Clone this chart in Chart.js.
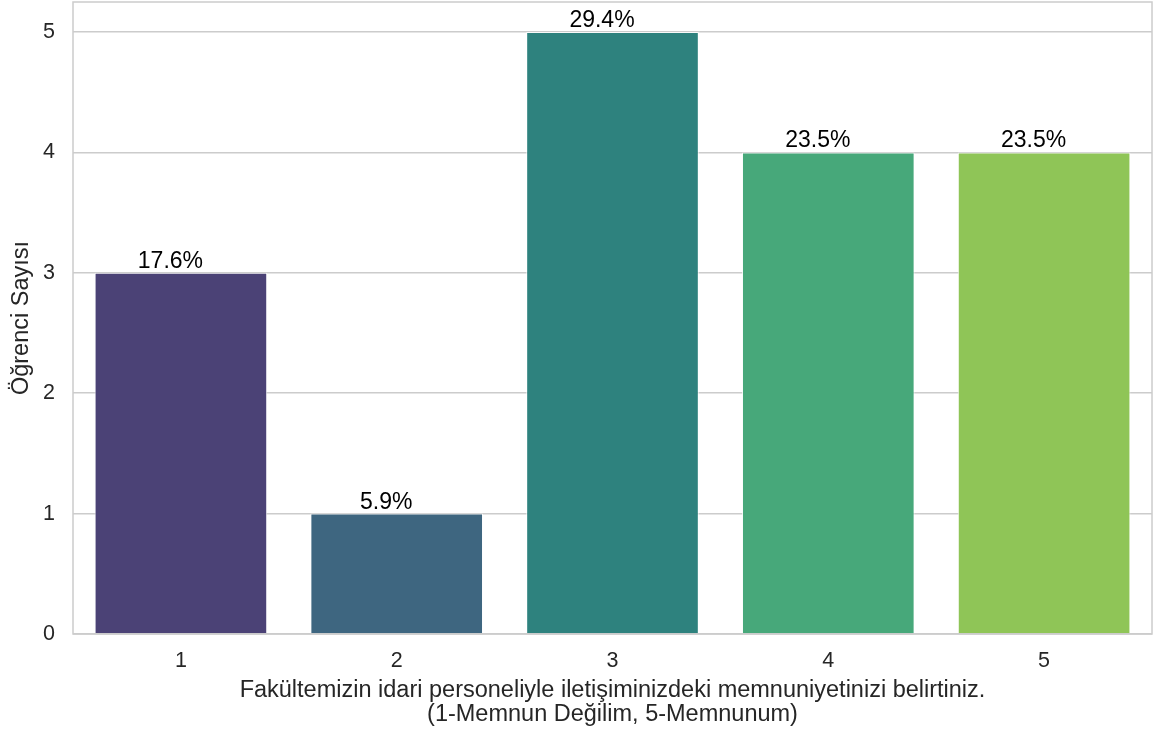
<!DOCTYPE html>
<html>
<head>
<meta charset="utf-8">
<script src="https://cdn.jsdelivr.net/npm/chart.js@4"></script>
<style>
  html, body { margin: 0; padding: 0; background: #ffffff; }
  #wrap { width: 1155px; height: 733px; }
</style>
</head>
<body>
<div id="wrap"><canvas id="barChart" width="1155" height="733"></canvas></div>
<script>
// Data
const categories = ['1', '2', '3', '4', '5'];
const counts = [3, 1, 5, 4, 4];
const percentLabels = ['17.6%', '5.9%', '29.4%', '23.5%', '23.5%'];
const barColors = ['#4b4276', '#3e6680', '#2e827e', '#47a87a', '#8fc557'];
const yTitle = 'Öğrenci Sayısı';
const xTitle = [
    'Fakültemizin idari personeliyle iletişiminizdeki memnuniyetinizi belirtiniz.',
    '(1-Memnun Değilim, 5-Memnunum)'
];

const FONT = "'Liberation Sans', Arial, sans-serif";
const gridColor = '#cccccc';

// frame round the plot area, drawn over the bars like matplotlib spines
const frame = {
    id: 'frame',
    afterDatasetsDraw(chart) {
        const { ctx, chartArea: a } = chart;
        ctx.save();
        ctx.strokeStyle = gridColor;
        ctx.lineWidth = 1.5;
        ctx.strokeRect(a.left, a.top, a.right - a.left, a.bottom - a.top);
        ctx.restore();
    }
};

// percentage labels above the bars (sit a little left of centre in the original)
const barLabels = {
    id: 'barLabels',
    afterDatasetsDraw(chart) {
        const ctx = chart.ctx;
        const meta = chart.getDatasetMeta(0);
        ctx.save();
        ctx.font = '23px ' + FONT;
        ctx.fillStyle = '#000000';
        ctx.textAlign = 'center';
        ctx.textBaseline = 'alphabetic';
        meta.data.forEach((bar, i) => {
            ctx.fillText(percentLabels[i], bar.x - 10.5, bar.y - 5);
        });
        ctx.restore();
    }
};

new Chart(document.getElementById('barChart'), {
    type: 'bar',
    data: {
        labels: categories,
        datasets: [{
            data: counts,
            backgroundColor: barColors,
            borderColor: 'rgba(255,255,255,0.8)',
            borderWidth: 1,
            categoryPercentage: 0.8,
            barPercentage: 1.0
        }]
    },
    options: {
        responsive: false,
        animation: false,
        devicePixelRatio: 1,
        layout: { padding: { top: 2, right: 3, left: 0, bottom: 0 } },
        plugins: {
            legend: { display: false },
            tooltip: { enabled: false }
        },
        scales: {
            x: {
                grid: { display: false, drawTicks: false },
                border: { display: false },
                ticks: {
                    color: '#262626',
                    font: { family: FONT, size: 21.5 },
                    padding: 14
                },
                title: {
                    display: true,
                    text: xTitle,
                    color: '#262626',
                    font: { family: FONT, size: 23.5, lineHeight: 1.0 },
                    padding: { top: 0, bottom: 7 }
                },
                afterFit(scale) {
                    scale.height = 99;
                    scale.paddingLeft = 0;
                    scale.paddingRight = 0;
                }
            },
            y: {
                min: 0,
                max: 5.25,
                grid: { color: gridColor, lineWidth: 1.5, drawTicks: false },
                border: { display: false },
                ticks: {
                    stepSize: 1,
                    includeBounds: false,
                    color: '#262626',
                    font: { family: FONT, size: 21.5 },
                    padding: 18
                },
                title: {
                    display: true,
                    text: yTitle,
                    color: '#262626',
                    font: { family: FONT, size: 23.5, lineHeight: 1.0 },
                    padding: { top: 10, bottom: 0 }
                },
                afterFit(scale) {
                    scale.width = 73;
                    scale.paddingTop = 0;
                    scale.paddingBottom = 0;
                }
            }
        }
    },
    plugins: [frame, barLabels]
});
</script>
</body>
</html>
